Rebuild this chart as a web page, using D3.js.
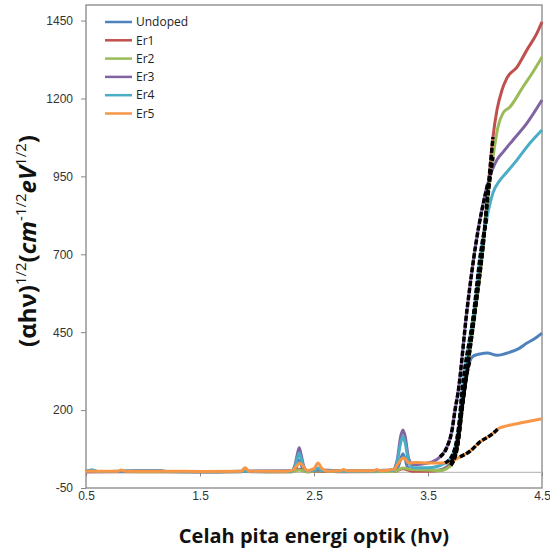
<!DOCTYPE html>
<meta charset="utf-8">
<style>
body { margin: 0; background: #fff; }
svg { display: block; font-family: "Open Sans", sans-serif; }
.axis text { font-size: 12px; fill: #333; }
.axis line { stroke: #868686; }
.axis path { display: none; }
.series { fill: none; stroke-width: 3px; stroke-linejoin: round; }
.fit { fill: none; stroke: #000; stroke-width: 3.5px; stroke-dasharray: 5,2; }
</style>
<body>
<svg width="550" height="553"></svg>
<script src="https://d3js.org/d3.v7.min.js"></script>
<script>
// series names and colours (Excel 2007 palette)
var names = ["Undoped", "Er1", "Er2", "Er3", "Er4", "Er5"];
var colors = ["#4F81BD", "#C0504D", "#9BBB59", "#8064A2", "#4BACC6", "#F79646"];

// [photon energy (eV), (ahv)^1/2]
var undoped = [[0.5,3],[0.55,8],[0.6,3],[0.8,3],[1.0,4],[1.2,3],[1.5,2],[1.86,2],[1.9,6],[1.94,2],[2.3,3],[2.34,12],[2.37,40],[2.4,12],[2.44,3],[2.5,4],[2.535,10],[2.57,3],[2.8,4],[3.05,4],[3.2,5],[3.24,20],[3.28,60],[3.32,18],[3.36,6],[3.5,6],[3.6,8],[3.7,30],[3.76,100],[3.8,215],[3.84,315],[3.868,358],[3.9,374],[3.956,380],[4.02,383],[4.105,376],[4.219,386],[4.3,398],[4.368,415],[4.45,433],[4.5,447]];
var er1 = [[0.5,2],[0.8,2],[1.2,2],[1.5,2],[1.9,3],[2.3,2],[2.37,10],[2.44,2],[2.535,4],[2.8,2],[3.2,3],[3.28,12],[3.36,4],[3.5,4],[3.6,6],[3.7,25],[3.76,90],[3.8,210],[3.85,350],[3.92,540],[3.98,720],[4.03,920],[4.07,1076],[4.105,1163],[4.149,1227],[4.193,1266],[4.281,1301],[4.368,1356],[4.456,1410],[4.5,1446]];
var er2 = [[0.5,3],[0.8,3],[1.2,2],[1.5,2],[1.9,3],[2.3,2],[2.37,8],[2.44,2],[2.535,5],[2.8,3],[3.2,3],[3.28,14],[3.36,9],[3.5,8],[3.6,6],[3.7,22],[3.76,85],[3.8,205],[3.85,345],[3.92,535],[3.98,715],[4.03,900],[4.07,1012],[4.114,1109],[4.158,1153],[4.219,1173],[4.333,1237],[4.421,1285],[4.5,1333]];
var er3 = [[0.5,2],[0.8,3],[0.95,6],[1.15,6],[1.2,3],[1.5,2],[1.9,4],[2.3,5],[2.33,20],[2.355,60],[2.37,79],[2.385,60],[2.41,20],[2.44,6],[2.535,8],[2.8,5],[3.19,8],[3.23,40],[3.26,115],[3.28,136],[3.3,115],[3.33,45],[3.37,25],[3.5,30],[3.605,50],[3.667,82],[3.711,136],[3.737,200],[3.763,255],[3.842,521],[3.921,736],[4.026,929],[4.105,1003],[4.158,1028],[4.246,1067],[4.368,1121],[4.5,1195]];
var er4 = [[0.5,3],[0.55,8],[0.6,3],[0.95,5],[1.15,5],[1.2,3],[1.5,2],[1.9,4],[2.3,4],[2.33,16],[2.355,48],[2.37,62],[2.385,48],[2.41,16],[2.44,5],[2.51,8],[2.535,14],[2.56,6],[2.8,4],[3.19,6],[3.23,35],[3.26,95],[3.28,115],[3.3,95],[3.33,35],[3.37,15],[3.5,15],[3.65,30],[3.72,60],[3.77,150],[3.8,265],[3.9,510],[3.96,700],[4.018,820],[4.07,897],[4.132,938],[4.193,964],[4.281,1003],[4.395,1057],[4.5,1099]];
var er5 = [[0.5,4],[0.78,4],[0.81,8],[0.84,4],[1.2,4],[1.5,3],[1.86,4],[1.895,15],[1.93,4],[2.25,4],[2.32,8],[2.35,22],[2.375,30],[2.4,22],[2.44,6],[2.5,12],[2.535,30],[2.57,12],[2.62,4],[2.73,5],[2.76,9],[2.79,5],[3.02,5],[3.05,9],[3.08,5],[3.2,10],[3.25,35],[3.285,47],[3.31,38],[3.33,30],[3.4,32],[3.5,30],[3.605,30],[3.69,34],[3.78,50],[3.868,68],[3.956,98],[4.06,122],[4.114,140],[4.2,150],[4.3,158],[4.4,165],[4.5,172]];
var values = [undoped, er1, er2, er3, er4, er5];

// energy range covered by the black dashed fit over each curve
var fitRanges = [[3.7, 3.868], [3.7, 4.07], [3.7, 4.07], [3.605, 4.026], [3.65, 4.018], [3.78, 4.114]];

var yTicks = [-50, 200, 450, 700, 950, 1200, 1450];
var xTicks = [0.5, 1.5, 2.5, 3.5, 4.5];

var svg = d3.select("svg"),
    margin = {top: 5, right: 8, bottom: 65, left: 86},
    width = +svg.attr("width") - margin.left - margin.right,
    height = +svg.attr("height") - margin.top - margin.bottom,
    g = svg.append("g").attr("transform", "translate(" + margin.left + "," + margin.top + ")");

var x = d3.scaleLinear().domain([0.5, 4.5]).range([0, width]),
    y = d3.scaleLinear().domain([-50, 1500]).range([height, 0]);

var line = d3.line()
    .curve(d3.curveMonotoneX)
    .x(function(d) { return x(d[0]); })
    .y(function(d) { return y(d[1]); });

// frame
g.append("rect")
    .attr("width", width).attr("height", height)
    .attr("fill", "none").attr("stroke", "#868686").attr("stroke-width", 1.3);

g.append("g")
    .attr("class", "axis")
    .call(d3.axisLeft(y).tickValues(yTicks).tickSize(5).tickSizeOuter(0).tickPadding(8)
      .tickFormat(function(d) { return String(d); }));

// zero line with its ticks
g.append("line")
    .attr("x1", 0).attr("x2", width)
    .attr("y1", y(0)).attr("y2", y(0))
    .attr("stroke", "#bdbdbd").attr("stroke-width", 1.3);

g.append("g")
    .attr("class", "axis")
    .attr("transform", "translate(0," + y(0) + ")")
    .call(d3.axisBottom(x).tickValues(xTicks).tickSize(4).tickSizeOuter(0).tickFormat(""));

g.append("g")
    .attr("class", "axis")
    .attr("transform", "translate(0," + height + ")")
    .call(d3.axisBottom(x).tickValues(xTicks).tickSize(0).tickPadding(3).tickFormat(d3.format(".1f")));

// curves
g.selectAll(".series")
    .data(values)
  .enter().append("path")
    .attr("class", "series")
    .attr("stroke", function(d, i) { return colors[i]; })
    .attr("d", line);

g.selectAll(".fit")
    .data(values)
  .enter().append("path")
    .attr("class", "fit")
    .attr("d", function(d, i) {
      var r = fitRanges[i];
      return line(d.filter(function(p) { return p[0] >= r[0] && p[0] <= r[1]; }));
    });

// legend
var legend = svg.append("g").attr("transform", "translate(105,22)")
  .selectAll("g")
    .data(names)
  .enter().append("g")
    .attr("transform", function(d, i) { return "translate(0," + i * 18.3 + ")"; });

legend.append("line")
    .attr("x1", 0).attr("x2", 27)
    .attr("stroke", function(d, i) { return colors[i]; })
    .attr("stroke-width", 2.5);

legend.append("text")
    .attr("x", 31)
    .attr("dy", "0.35em")
    .style("font-size", "12px")
    .attr("fill", "#222")
    .text(function(d) { return d; });

// axis titles
svg.append("text")
    .attr("x", margin.left + width / 2)
    .attr("y", 543)
    .attr("text-anchor", "middle")
    .style("font-size", "20px")
    .style("font-weight", "bold")
    .attr("fill", "#111")
    .text("Celah pita energi optik (h\u03bd)");

var yt = svg.append("text")
    .attr("transform", "translate(36,241) rotate(-90)")
    .attr("text-anchor", "middle")
    .style("font-size", "24px")
    .style("font-weight", "bold")
    .attr("fill", "#111");
yt.append("tspan").text("(\u03b1h\u03bd)");
yt.append("tspan").attr("dy", -10).style("font-size", "15px").style("font-weight", "normal").text("1/2");
yt.append("tspan").attr("dy", 10).text("(");
yt.append("tspan").style("font-style", "italic").text("cm");
yt.append("tspan").attr("dy", -10).style("font-size", "15px").style("font-weight", "normal").text("-1/2");
yt.append("tspan").attr("dy", 10).style("font-style", "italic").text("eV");
yt.append("tspan").attr("dy", -10).style("font-size", "15px").style("font-weight", "normal").text("1/2");
yt.append("tspan").attr("dy", 10).text(")");
</script>
</body>
